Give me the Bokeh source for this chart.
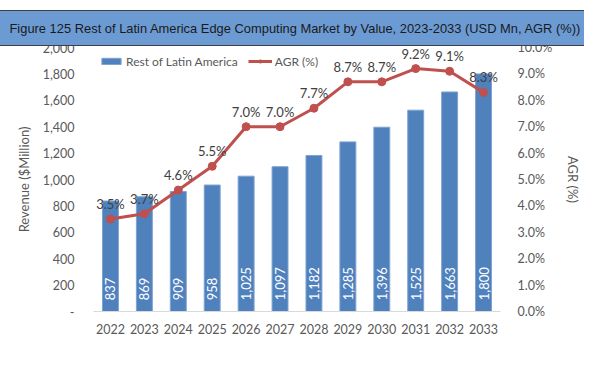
import math
from bokeh.plotting import figure
from bokeh.models import (ColumnDataSource, Range1d, LinearAxis, FixedTicker,
                          NumeralTickFormatter, Legend, LegendItem, Title)
from bokeh.core.properties import value
from bokeh.embed import file_html
from bokeh.resources import INLINE

years = ["2022", "2023", "2024", "2025", "2026", "2027", "2028", "2029", "2030", "2031", "2032", "2033"]
revenue = [837, 869, 909, 958, 1025, 1097, 1182, 1285, 1396, 1525, 1663, 1800]
agr = [3.5, 3.7, 4.6, 5.5, 7.0, 7.0, 7.7, 8.7, 8.7, 9.2, 9.1, 8.3]
left_ticks = [0, 200, 400, 600, 800, 1000, 1200, 1400, 1600, 1800, 2000]
right_ticks = [0.0, 0.01, 0.02, 0.03, 0.04, 0.05, 0.06, 0.07, 0.08, 0.09, 0.10]
title_text = "Figure 125 Rest of Latin America Edge Computing Market by Value, 2023-2033 (USD Mn, AGR (%))"

FONT = "Lato"
BAR = "#4f81bd"
RED = "#c0504d"
GREY = "#595959"

src = ColumnDataSource(dict(
    year=years,
    rev=revenue,
    rev_lbl=[f"{v:,}" for v in revenue],
    agr=[a / 100 for a in agr],
    agr_lbl=[f"{a:.1f}%" for a in agr],
))

p = figure(width=584, height=366, x_range=years, y_range=Range1d(0, 2000), title=None,
           output_backend="svg", toolbar_location=None,
           min_border_left=93, min_border_right=71, min_border_top=47, min_border_bottom=55)
p.outline_line_color = None
p.xgrid.grid_line_color = None
p.ygrid.grid_line_color = None
p.x_range.range_padding = 0.0
p.extra_y_ranges = {"agr": Range1d(0, 0.10)}

# invisible spacer between plot area and title bar, then the title bar (outermost)
p.add_layout(Title(text="·", text_alpha=0, text_font_size="17px", standoff=0, padding=0), "above")
p.add_layout(Title(text=title_text, align="left", offset=-96, vertical_align="top", standoff=0,
                   text_font="Liberation Sans", text_font_size="12.9px", text_font_style="normal",
                   text_color="#1a1a1a", background_fill_color="#6c9bd4",
                   border_line_color="#404040", border_line_width=1,
                   padding=dict(left=12, right=30, top=10, bottom=10)), "above")

bars = p.vbar(x="year", top="rev", width=0.47, source=src, fill_color=BAR, line_color="#7fa3d1", line_width=1)
p.text(x="year", y=85, text="rev_lbl", source=src, angle=math.pi / 2, text_align="left",
       text_baseline="middle", text_color="white", text_font=value(FONT), text_font_size="13px")

line = p.line(x="year", y="agr", source=src, y_range_name="agr", line_color=RED, line_width=3)
dots = p.scatter(x="year", y="agr", source=src, y_range_name="agr", size=8, fill_color=RED, line_color=RED)
p.text(x="year", y="agr", text="agr_lbl", source=src, y_range_name="agr", y_offset=-15,
       text_align="center", text_baseline="middle", text_color="#404040",
       text_font=value(FONT), text_font_size="13px")

xa = p.xaxis[0]
xa.axis_line_color = "#d9d9d9"
xa.major_tick_line_color = None
xa.minor_tick_line_color = None
xa.major_label_text_font = FONT
xa.major_label_text_font_size = "12.5px"
xa.major_label_text_color = GREY
xa.major_label_standoff = 6

ya = p.yaxis[0]
ya.ticker = FixedTicker(ticks=left_ticks)
ya.formatter = NumeralTickFormatter(format="0,0")
ya.major_label_overrides = {0: "-"}
ya.axis_line_color = None
ya.major_tick_line_color = None
ya.minor_tick_line_color = None
ya.major_label_text_font = FONT
ya.major_label_text_font_size = "12.5px"
ya.major_label_text_color = GREY
ya.major_label_standoff = 13
ya.axis_label = "Revenue ($Million)"
ya.axis_label_text_font = FONT
ya.axis_label_text_font_style = "normal"
ya.axis_label_text_font_size = "13px"
ya.axis_label_text_color = GREY
ya.axis_label_standoff = 8

ra = LinearAxis(y_range_name="agr", ticker=FixedTicker(ticks=right_ticks),
                formatter=NumeralTickFormatter(format="0.0%"))
ra.axis_line_color = None
ra.major_tick_line_color = None
ra.minor_tick_line_color = None
ra.major_label_text_font = FONT
ra.major_label_text_font_size = "12.5px"
ra.major_label_text_color = GREY
ra.major_label_standoff = 11
ra.axis_label = "AGR (%)"
ra.axis_label_text_font = FONT
ra.axis_label_text_font_style = "normal"
ra.axis_label_text_font_size = "13px"
ra.axis_label_text_color = GREY
ra.axis_label_standoff = 10
p.add_layout(ra, "right")

legend = Legend(items=[LegendItem(label="Rest of Latin America", renderers=[bars]),
                       LegendItem(label="AGR (%)", renderers=[line, dots])],
                orientation="horizontal", location="top_left",
                label_text_font=FONT, label_text_font_size="12px", label_text_color=GREY,
                glyph_width=24, glyph_height=8, label_height=16, label_standoff=3, spacing=10,
                padding=0, margin=6, border_line_color=None, background_fill_alpha=0)
p.add_layout(legend, "center")

open("out.html", "w").write(file_html(p, INLINE))
